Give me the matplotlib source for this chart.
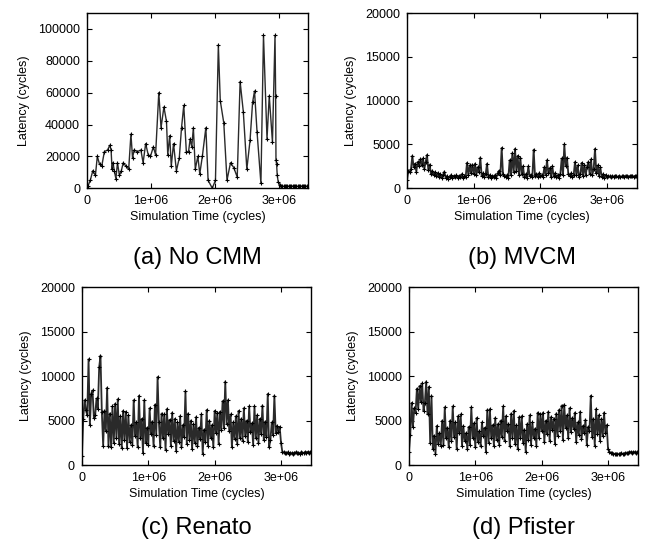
import matplotlib
matplotlib.use('Agg')
import matplotlib.pyplot as plt
import numpy as np

plt.rcParams['font.family'] = ['Liberation Sans', 'DejaVu Sans']

# (a) No CMM - irregular sample times (x1e6 cycles)
t_a = [0, 0.015, 0.05, 0.09, 0.13, 0.16, 0.195, 0.23, 0.27, 0.32, 0.355, 0.375, 0.39,
       0.405, 0.425, 0.45, 0.475, 0.505, 0.535, 0.565, 0.605, 0.65, 0.685, 0.71, 0.735,
       0.785, 0.84, 0.875, 0.915, 0.955, 0.99, 1.035, 1.07, 1.12, 1.155, 1.2, 1.24, 1.26,
       1.29, 1.315, 1.35, 1.395, 1.44, 1.475, 1.51, 1.55, 1.585, 1.61, 1.635, 1.66, 1.69,
       1.73, 1.76, 1.8, 1.855, 1.89, 1.955, 2.005, 2.05, 2.08, 2.135, 2.185, 2.24, 2.29,
       2.345, 2.39, 2.44, 2.495, 2.545, 2.585, 2.615, 2.655, 2.715, 2.755, 2.81, 2.845,
       2.895, 2.935, 2.945, 2.95, 2.96, 2.97, 2.985, 3.01,
       3.03, 3.05, 3.07, 3.09, 3.11, 3.13, 3.15, 3.17, 3.19, 3.21, 3.23, 3.25, 3.27,
       3.29, 3.31, 3.33, 3.35, 3.37, 3.39, 3.41, 3.43, 3.45]
lat_a = [0, 1500, 5000, 11000, 8000, 20000, 15000, 14000, 23000, 24000, 27000, 24000, 12000,
         16000, 11000, 6000, 16000, 8000, 11000, 16000, 14000, 12000, 34000, 19000, 24000,
         23000, 24000, 16000, 28000, 21000, 20000, 26000, 21000, 60000, 38000, 51000, 42000, 21000,
         33000, 14000, 28000, 11000, 19000, 38000, 52000, 23000, 23000, 31000, 26000, 38000, 12000,
         20000, 9000, 20000, 38000, 5000, 0, 5000, 90000, 55000, 41000, 5000, 16000, 13000,
         7000, 67000, 48000, 12000, 30000, 54000, 61000, 35000, 3000, 96000, 31000, 58000,
         29000, 96000, 58000, 18000, 15000, 8000, 4000, 2000,
         1500, 1300, 1200, 1400, 1300, 1250, 1350, 1200, 1300, 1400, 1250, 1300, 1350,
         1200, 1300, 1250, 1400, 1300, 1200, 1350, 1300, 1250]

# regular sampling for the other three runs
SAMPLE_INTERVAL = 0.02  # x1e6 cycles

lat_b = [900, 2000, 1800, 2200, 3700, 2400, 2800, 1900, 3000, 2500, 3300, 2600, 3400, 2200,
         3000, 3800, 2100, 2700, 1600, 2000, 1500, 1800, 1400, 1700, 1300, 1600, 1200, 1500,
         1900, 1200, 1400, 1100, 1300, 1500, 1200, 1400, 1300, 1500, 1200, 1400, 1300, 1600,
         1200, 1400, 1300, 2900, 1500, 2600, 1700, 2700, 1600, 2800, 1500, 2400, 1800, 3500,
         1400, 1700, 1300, 1600, 2800, 1300, 1500, 1200, 1400, 1300, 1500, 1200, 1700, 2000,
         1500, 4600, 1600, 1400, 1300, 1500, 1200, 3200, 1500, 4000, 1800, 4500, 2000, 3700,
         1500, 3500, 1600, 2500, 1300, 1600, 1200, 2500, 1400, 1500, 1300, 4400, 1400, 1600,
         1300, 1700, 1400, 1500, 1300, 2400, 1500, 3200, 1700, 2300, 1300, 2500, 1400, 1700,
         1300, 1500, 1200, 1600, 3400, 1500, 5000, 2500, 3500, 1600, 1400, 1700, 1300, 1500,
         3000, 1500, 2600, 1300, 1600, 2900, 1400, 2700, 1500, 2400, 3000, 1600, 3300, 1500,
         2200, 4500, 1700, 2600, 1400, 2400, 1300, 1600, 1200, 1500,
         1300, 1400, 1350, 1250, 1400, 1300, 1450, 1350, 1300, 1400, 1250, 1350, 1400, 1300,
         1450, 1350, 1300, 1400, 1350, 1450, 1300, 1400, 1350]

lat_c = [1000, 5200, 7300, 6200, 5600, 11900, 4500, 8000, 8400, 5300, 5600, 7500, 6300, 11000,
         12300, 6000, 2200, 6100, 3800, 8700, 2100, 5800, 2000, 6600, 2500, 6900, 3000, 7400,
         2400, 5500, 1900, 6100, 2800, 6000, 1900, 5600, 2600, 4500, 2300, 7300, 3300, 4800,
         2000, 7800, 3000, 5200, 1400, 7300, 2500, 4200, 2300, 6400, 3500, 4900, 2100, 6800,
         3400, 9900, 4800, 2000, 5800, 3000, 5700, 1700, 6300, 3500, 5100, 2200, 5900, 2700,
         5200, 1600, 4800, 2600, 5500, 2000, 4500, 3200, 8300, 2400, 5800, 2800, 5000, 1800,
         4600, 2500, 5400, 2100, 4200, 2900, 5700, 1300, 4000, 2600, 6200, 2200, 5000, 3100,
         4500, 2000, 6100, 3600, 5900, 2400, 6000, 4000, 7200, 4200, 9400, 4600, 7300, 3800,
         5700, 2000, 4800, 2900, 5500, 2400, 6100, 3100, 5200, 2700, 6400, 3300, 5000, 2600,
         6600, 3700, 4700, 2300, 6600, 3000, 5600, 2500, 5200, 3500, 6700, 2800, 4900, 3200,
         8000, 2000, 2800, 4800, 3400, 7800, 3600, 4400, 3700, 4300,
         2500, 1500, 1450, 1400, 1350, 1450, 1300, 1400, 1350, 1300, 1400, 1450, 1350, 1400,
         1300, 1450, 1400, 1350, 1450, 1400, 1500, 1400, 1450]

lat_d = [1500, 3400, 7000, 4300, 6400, 5900, 8600, 6300, 8900, 7100, 9200, 6100, 7000, 9400,
         5700, 8800, 2500, 7800, 1800, 3300, 1300, 4400, 2400, 3600, 2200, 5000, 2300, 6500,
         3000, 4200, 2000, 5000, 2700, 6600, 3200, 4800, 1800, 5500, 3600, 5700, 2200, 4400,
         2700, 3600, 1800, 4300, 2300, 6500, 3100, 4700, 2000, 5300, 2600, 3800, 2100, 4800,
         3300, 4200, 1500, 6200, 2500, 6300, 3000, 4500, 2200, 5300, 2800, 4600, 2300, 5000,
         3200, 6600, 2700, 5500, 3800, 4600, 2100, 5800, 3000, 6100, 2400, 4500, 1800, 5400,
         3000, 5500, 2500, 4000, 1500, 4600, 2800, 5600, 2300, 4800, 3100, 4100, 2200, 5900,
         3000, 5700, 3800, 5900, 2600, 5000, 3500, 6000, 2700, 5400, 4000, 5200, 2400, 5800,
         3300, 6200, 3800, 6700, 2800, 6800, 4200, 5600, 3000, 6400, 3700, 5300, 4100, 5900,
         2600, 4800, 3400, 6000, 2900, 4400, 3600, 5100, 2300, 4300, 3800, 7800, 3200, 5200,
         2200, 6300, 3500, 5600, 2700, 5200, 3300, 5900, 3600, 4500,
         1800, 1500, 1400, 1350, 1300, 1250, 1300, 1200, 1250, 1300, 1350, 1250, 1300, 1350,
         1400, 1350, 1450, 1500, 1400, 1450, 1500, 1400, 1450]

titles = ['(a) No CMM', '(b) MVCM', '(c) Renato', '(d) Pfister']
xticks = [0, 1e6, 2e6, 3e6]
xticklabels = ['0', '1e+06', '2e+06', '3e+06']

fig = plt.figure(figsize=(6.45, 5.44), dpi=100)

# axes rectangles [left, bottom, width, height]
rects = [[0.135, 0.654, 0.3425, 0.322],
         [0.631, 0.654, 0.3566, 0.322],
         [0.127, 0.145, 0.355, 0.327],
         [0.634, 0.145, 0.355, 0.327]]
title_y = [0.526, 0.526, 0.029, 0.029]

series = [(np.array(t_a) * 1e6, lat_a)]
for lat in (lat_b, lat_c, lat_d):
    t = np.arange(len(lat)) * SAMPLE_INTERVAL * 1e6
    series.append((t, lat))

for i, (t, lat) in enumerate(series):
    ax = fig.add_axes(rects[i])
    lw = 1.0 if i == 0 else 1.3
    ax.plot(t, lat, color='#2a2a2a', lw=lw, marker='+', ms=3.5, mew=0.8, mec='black')
    ax.set_xlim(0, 3.45e6)
    if i == 0:
        ax.set_ylim(0, 110000)
        ax.set_yticks(range(0, 100001, 20000))
    else:
        ax.set_ylim(0, 20000)
        ax.set_yticks(range(0, 20001, 5000))
    ax.set_xticks(xticks)
    ax.set_xticklabels(xticklabels)
    ax.tick_params(direction='in', top=True, right=True, length=3.5, width=0.8,
                   labelsize=9, pad=5, colors='black')
    for s in ax.spines.values():
        s.set_linewidth(1.0)
    ax.set_xlabel('Simulation Time (cycles)', fontsize=9, labelpad=3)
    ax.set_ylabel('Latency (cycles)', fontsize=9, labelpad=6)
    pos = ax.get_position()
    fig.text(pos.x0 + pos.width / 2, title_y[i], titles[i], fontsize=17,
             ha='center', va='center')

fig.savefig('out.png', dpi=100)
